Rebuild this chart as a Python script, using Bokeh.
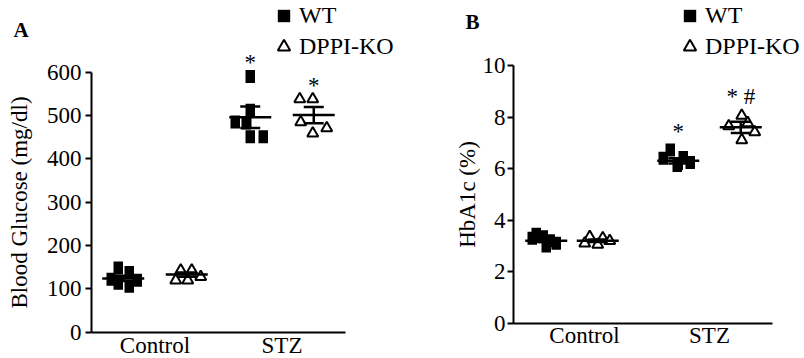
from bokeh.plotting import figure
from bokeh.layouts import row
from bokeh.models import Range1d, FixedTicker, Legend, LegendItem, Label
from bokeh.core.properties import value
from bokeh.embed import file_html
from bokeh.resources import INLINE

# ---------------- data ----------------
categories = ["Control", "STZ"]
series = ["WT", "DPPI-KO"]

# Panel A: blood glucose (mg/dl)
glu_wt_control = [122, 148, 113, 138, 106, 120]
glu_ko_control = [143, 143, 120, 120, 128]
glu_wt_stz = [590, 512, 485, 483, 451, 451]
glu_ko_stz = [538, 538, 485, 471, 459]
glu_mean_wt = [124, 496]
glu_sem_wt = [6, 25]
glu_mean_ko = [133, 501]
glu_sem_ko = [5, 19]
glu_marks_wt = ["", "*"]
glu_marks_ko = ["", "*"]
glu_ticks = [0, 100, 200, 300, 400, 500, 600]

# Panel B: HbA1c (%)
hba_wt_control = [3.45, 3.35, 3.2, 3.1, 3.0, 3.3]
hba_ko_control = [3.35, 3.3, 3.1, 3.05, 3.2]
hba_wt_stz = [6.72, 6.4, 6.12, 6.43, 6.24, 6.2]
hba_ko_stz = [8.06, 7.77, 7.65, 7.42, 7.11]
hba_mean_wt = [3.2, 6.3]
hba_sem_wt = [0.05, 0.1]
hba_mean_ko = [3.2, 7.6]
hba_sem_ko = [0.05, 0.22]
hba_marks_wt = ["", "*"]
hba_marks_ko = ["", "* #"]
hba_ticks = [0, 2, 4, 6, 8, 10]

# ---------------- layout (horizontal offsets in px) ----------------
shift_glu = {("WT", 0): 0, ("KO", 0): 0, ("WT", 1): 0, ("KO", 1): 0}
shift_hba = {("WT", 0): -7, ("KO", 0): -18, ("WT", 1): 0, ("KO", 1): 0}
dx_glu = {
    ("WT", 0): [-12, -5, -5, 6, 6, 14],
    ("KO", 0): [-6, 5, -11, 1, 14],
    ("WT", 1): [0, 0, -15, -4, 0, 13],
    ("KO", 1): [-14, -1, -13, 13, -1],
}
dx_hba = {
    ("WT", 0): [-10, -3, 4, 10, 0, -14],
    ("KO", 0): [-8, 5, -13, 0, 12],
    ("WT", 1): [-8, -15, -1, 5, 12, 0],
    ("KO", 1): [1, 7, -12, 14, 1],
}

FONT = "Liberation Serif"
H = 358


def make_panel(frame_w, xr, yr, yaxis_at, xbounds, ybounds, unit_px, yticks,
               wt_groups, ko_groups, mean_wt, sem_wt, mean_ko, sem_ko,
               marks_wt, marks_ko, dx, shift, ylabel, star_off,
               tick_standoff, label_standoff, xlab_standoff, legend_loc,
               panel_letter, letter_xy):
    p = figure(frame_width=frame_w, frame_height=H,
               x_range=Range1d(*xr), y_range=Range1d(*yr),
               output_backend="svg", toolbar_location=None,
               min_border_left=0, min_border_right=0,
               min_border_top=0, min_border_bottom=0)
    p.xgrid.visible = False
    p.ygrid.visible = False
    p.outline_line_color = None
    p.background_fill_color = "white"
    p.border_fill_color = "white"

    pos = [1, 2]
    ko_renderer = None
    wt_xy = None
    for i, c in enumerate(categories):
        xw = pos[i] - 0.25 + shift[("WT", i)] / unit_px
        xk = pos[i] + 0.25 + shift[("KO", i)] / unit_px
        wv = wt_groups[i]
        kv = ko_groups[i]
        wx = [xw + d / unit_px for d in dx[("WT", i)]]
        kx = [xk + d / unit_px for d in dx[("KO", i)]]
        p.rect(x=wx, y=wv, width=9.5, height=13, width_units="screen",
               height_units="screen", fill_color="black", line_color=None)
        wt_xy = (wx, wv)
        ko_renderer = p.scatter(x=kx, y=kv, marker="triangle", size=11,
                                fill_color="white", line_color="black",
                                line_width=2)
        for xc, m, s in ((xw, mean_wt[i], sem_wt[i]), (xk, mean_ko[i], sem_ko[i])):
            p.segment(x0=[xc], y0=[m - s], x1=[xc], y1=[m + s],
                      line_color="black", line_width=2.5)
            p.scatter(x=[xc, xc], y=[m - s, m + s], marker="dash", size=20,
                      line_color="black", line_width=2.5)
            p.scatter(x=[xc], y=[m], marker="dash", size=42,
                      line_color="black", line_width=2.5)
        p.text(x=[xw, xk], y=[max(wv), max(kv)], text=[marks_wt[i], marks_ko[i]],
               text_align="center", text_baseline="alphabetic", y_offset=star_off,
               text_font=value(FONT), text_font_size="23px", text_color="black")

    # legend: zero-size proxy for the filled squares, real renderer for triangles
    r_wt = p.scatter(x=wt_xy[0], y=wt_xy[1], marker="square", size=0,
                     fill_color="black", line_color=None)
    leg = Legend(items=[LegendItem(label=series[0], renderers=[r_wt]),
                        LegendItem(label=series[1], renderers=[ko_renderer])],
                 location=legend_loc, glyph_width=31, glyph_height=31,
                 spacing=0, padding=0, margin=0, label_standoff=0,
                 label_text_font=FONT, label_text_font_size="24px",
                 label_text_color="black", border_line_color=None,
                 background_fill_alpha=0)
    p.add_layout(leg)

    p.add_layout(Label(x=letter_xy[0], y=letter_xy[1], x_units="screen",
                       y_units="screen", text=panel_letter,
                       text_font=FONT, text_font_size="21px", text_font_style="bold",
                       text_align="left", text_baseline="bottom",
                       text_color="black"))

    xa = p.xaxis[0]
    xa.fixed_location = 0
    xa.bounds = xbounds
    xa.ticker = FixedTicker(ticks=pos)
    xa.major_label_overrides = {pos[0]: categories[0], pos[1]: categories[1]}
    xa.major_tick_line_color = None
    xa.major_tick_out = 0
    xa.major_tick_in = 0
    xa.minor_tick_line_color = None
    xa.major_label_standoff = xlab_standoff

    ya = p.yaxis[0]
    ya.fixed_location = yaxis_at
    ya.bounds = ybounds
    ya.ticker = FixedTicker(ticks=yticks)
    ya.major_tick_out = 6
    ya.major_tick_in = 0
    ya.major_tick_line_width = 2
    ya.major_tick_line_color = "black"
    ya.minor_tick_line_color = None
    ya.major_label_standoff = tick_standoff
    ya.axis_label = ylabel
    ya.axis_label_standoff = label_standoff
    ya.axis_label_text_font = FONT
    ya.axis_label_text_font_size = "23px"
    ya.axis_label_text_font_style = "normal"
    ya.axis_label_text_color = "black"

    for ax in (xa, ya):
        ax.axis_line_color = "black"
        ax.axis_line_width = 2
        ax.major_label_text_font = FONT
        ax.major_label_text_font_size = "23px"
        ax.major_label_text_color = "black"
    return p


# panel A: frame spans page x 0..448; y axis at page x 91, zero line at page y 331.7
pA = make_panel(448, (-0.2165, 3.311), (-60.69, 765.5), 0.5, (0.5, 2.5), (0, 600), 127,
                glu_ticks, [glu_wt_control, glu_wt_stz], [glu_ko_control, glu_ko_stz],
                glu_mean_wt, glu_sem_wt, glu_mean_ko, glu_sem_ko,
                glu_marks_wt, glu_marks_ko, dx_glu, shift_glu, "Blood Glucose (mg/dl)",
                -14, 4, 12, 1, (268, 296), "A", (13, 316.5))

# panel B: frame spans page x 448..802; y axis at page x 513, zero line at page y 322.7
pB = make_panel(354, (-0.088, 2.744), (-1.370, 12.522), 0.432, (0.432, 2.5), (0, 10), 125,
                hba_ticks, [hba_wt_control, hba_wt_stz], [hba_ko_control, hba_ko_stz],
                hba_mean_wt, hba_sem_wt, hba_mean_ko, hba_sem_ko,
                hba_marks_wt, hba_marks_ko, dx_hba, shift_hba, "HbA1c (%)",
                -19, 2, 0, 0, (226, 296), "B", (17, 324.5))

layout = row(pA, pB)
open("out.html", "w").write(file_html(layout, INLINE))
